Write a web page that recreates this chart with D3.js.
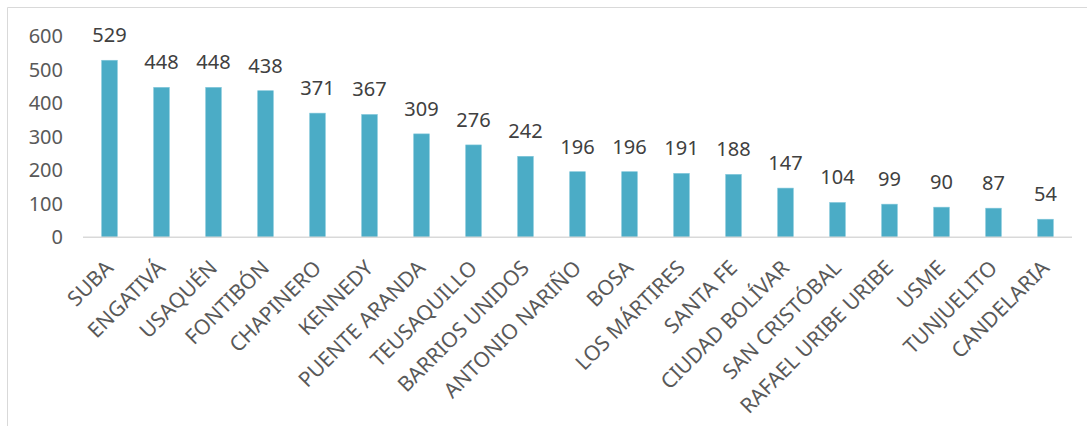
<!DOCTYPE html>
<html><head><meta charset="utf-8">
<script src="https://cdn.jsdelivr.net/npm/d3@7"></script>
<style>body{margin:0;background:#fff}svg{display:block}</style>
</head><body>
<script>
const categories = ["SUBA","ENGATIVÁ","USAQUÉN","FONTIBÓN","CHAPINERO","KENNEDY","PUENTE ARANDA","TEUSAQUILLO","BARRIOS UNIDOS","ANTONIO NARIÑO","BOSA","LOS MÁRTIRES","SANTA FE","CIUDAD BOLÍVAR","SAN CRISTÓBAL","RAFAEL URIBE URIBE","USME","TUNJUELITO","CANDELARIA"];
const values = [529,448,448,438,371,367,309,276,242,196,196,191,188,147,104,99,90,87,54];
const yTicks = [0,100,200,300,400,500,600];

const W = 1087, H = 426;
const svg = d3.select("body").append("svg").attr("width", W).attr("height", H);

// chart frame
svg.append("line").attr("x1",7.5).attr("x2",7.5).attr("y1",7.5).attr("y2",H).attr("stroke","#d9d9d9");
svg.append("line").attr("x1",7.5).attr("x2",W).attr("y1",7.5).attr("y2",7.5).attr("stroke","#d9d9d9");

const x = d3.scaleBand().domain(categories).range([83.5, 1071.5]).paddingInner(0.7).paddingOuter(0.35);
const y = d3.scaleLinear().domain([0, 600]).range([237.3, 36.5]);

// y axis labels
const yAxis = svg.append("g").attr("transform","translate(63,0)")
  .call(d3.axisLeft(y).tickValues(yTicks).tickSize(0).tickPadding(0));
yAxis.select(".domain").remove();
yAxis.selectAll("text").attr("font-family","'Noto Sans', sans-serif").attr("font-size",20).attr("fill","#595959");

// bars
svg.append("g").selectAll("rect").data(values).join("rect")
  .attr("x",(d,i)=>x(categories[i]))
  .attr("width",x.bandwidth())
  .attr("y",d=>y(d))
  .attr("height",d=>y(0)-y(d))
  .attr("fill","#4bacc6")
  .attr("stroke","#7fc6da").attr("stroke-width",0.6);

// baseline
svg.append("line").attr("x1",83).attr("x2",1072).attr("y1",y(0)).attr("y2",y(0))
  .attr("stroke","#d9d9d9").attr("stroke-width",1.5);

// value labels
svg.append("g").selectAll("text").data(values).join("text")
  .attr("x",(d,i)=>x(categories[i])+x.bandwidth()/2)
  .attr("y",d=>y(d)-18)
  .attr("text-anchor","middle")
  .attr("font-family","'Noto Sans', sans-serif").attr("font-size",20).attr("fill","#404040")
  .text(d=>d);

// category labels
const xAxis = svg.append("g").attr("transform",`translate(0,${y(0)})`)
  .call(d3.axisBottom(x).tickSize(0).tickPadding(0));
xAxis.select(".domain").remove();
xAxis.selectAll("text")
  .attr("font-family","'Noto Sans', sans-serif").attr("font-size",21).attr("fill","#595959")
  .attr("text-anchor","end").attr("dy",null).attr("y",null)
  .attr("transform","translate(5,32) rotate(-45)");
</script>
</body></html>
